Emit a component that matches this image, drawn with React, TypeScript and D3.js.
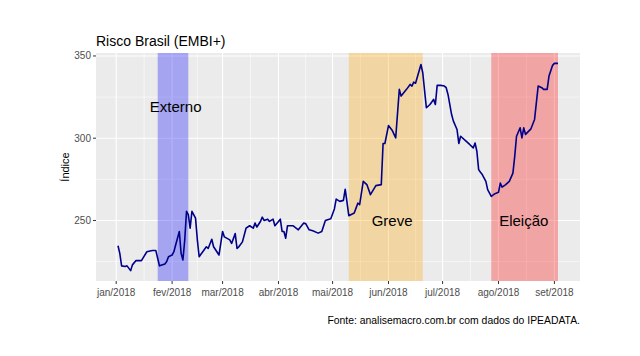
import React from "react";
import * as d3 from "d3";

const dates: string[] = [
  "2018-01-02","2018-01-03","2018-01-04","2018-01-06","2018-01-07","2018-01-09","2018-01-10","2018-01-12","2018-01-15","2018-01-18",
  "2018-01-21","2018-01-23","2018-01-24","2018-01-25","2018-01-28","2018-01-29","2018-01-30","2018-02-01","2018-02-02","2018-02-03",
  "2018-02-05","2018-02-06","2018-02-07","2018-02-08","2018-02-09","2018-02-10","2018-02-11","2018-02-12","2018-02-14","2018-02-15",
  "2018-02-16","2018-02-18","2018-02-20","2018-02-21","2018-02-23","2018-02-24","2018-02-27","2018-03-01","2018-03-02","2018-03-05",
  "2018-03-06","2018-03-08","2018-03-09","2018-03-10","2018-03-12","2018-03-14","2018-03-16","2018-03-18","2018-03-19","2018-03-20",
  "2018-03-22","2018-03-23","2018-03-24","2018-03-26","2018-03-27","2018-03-29","2018-03-30","2018-04-01","2018-04-02","2018-04-03",
  "2018-04-04","2018-04-05","2018-04-06","2018-04-09","2018-04-12","2018-04-15","2018-04-16","2018-04-18","2018-04-20","2018-04-23",
  "2018-04-25","2018-04-27","2018-04-30","2018-05-02","2018-05-03","2018-05-05","2018-05-07","2018-05-08","2018-05-10","2018-05-13",
  "2018-05-14","2018-05-15","2018-05-16","2018-05-18","2018-05-20","2018-05-22","2018-05-25","2018-05-28","2018-05-29","2018-05-30",
  "2018-06-01","2018-06-03","2018-06-05","2018-06-07","2018-06-08","2018-06-11","2018-06-13","2018-06-14","2018-06-15","2018-06-16",
  "2018-06-19","2018-06-20","2018-06-22","2018-06-24","2018-06-25","2018-06-26","2018-06-27","2018-06-28","2018-06-30","2018-07-02",
  "2018-07-03","2018-07-04","2018-07-06","2018-07-07","2018-07-09","2018-07-10","2018-07-11","2018-07-14","2018-07-16","2018-07-18",
  "2018-07-19","2018-07-20","2018-07-21","2018-07-22","2018-07-23","2018-07-25","2018-07-26","2018-07-28","2018-07-30","2018-08-01",
  "2018-08-02","2018-08-03","2018-08-05","2018-08-07","2018-08-09","2018-08-10","2018-08-11","2018-08-13","2018-08-14","2018-08-15",
  "2018-08-16","2018-08-19","2018-08-21","2018-08-23","2018-08-25","2018-08-26","2018-08-28","2018-08-29","2018-08-31","2018-09-01",
  "2018-09-03"
];

const values: number[] = [
  234.6, 230, 222.4, 222, 222.4, 219.5, 223, 225.6, 225.6, 231,
  231.7, 231.7, 227, 222.4, 223.6, 225, 228, 229, 231, 235.2,
  243.3, 230, 226, 238, 255.5, 253.5, 245.3, 255.5, 251.4, 238.2,
  228, 231, 234, 233, 238.6, 234, 229, 243.3, 240, 238.2,
  236, 242, 233, 234, 237, 245.3, 246.8, 245.3, 248.4, 246,
  249.4, 252, 250, 250.8, 249.4, 250.8, 246.8, 249.4, 250.8, 243.3,
  243.3, 239.2, 246.8, 246.8, 244.3, 248.4, 248.2, 244.3, 243.7, 242.3,
  243.3, 250, 251, 257, 263, 261.6, 262.2, 269, 252.9, 254.5,
  257.5, 260.5, 259.6, 273.8, 271.8, 265.7, 271.2, 271.8, 296.8, 296.8,
  307.7, 304.9, 300.2, 329.7, 325.6, 329.7, 332.7, 331.7, 334.1, 333.4,
  344.8, 339.8, 318.5, 320.5, 322, 323.6, 320.5, 332.1, 332.1, 331.7,
  330.7, 326.6, 314.4, 310.4, 305.3, 296.8, 301.2, 298.2, 296.2, 294.1,
  297.1, 292.1, 280.9, 279.3, 277.9, 273.8, 268.7, 264.6, 266.3, 267.1,
  272.7, 270.3, 271.8, 273.8, 278.8, 289, 301.2, 306.3, 300.2, 306.3,
  302.3, 305.7, 311.4, 331.7, 330.7, 329.7, 329.7, 337.8, 344.3, 345.5,
  345.5
];

const periodLabels: string[] = ["Externo", "Greve", "Eleição"];
const periodStart: string[] = ["2018-01-24", "2018-05-10", "2018-07-28"];
const periodEnd: string[] = ["2018-02-10", "2018-06-20", "2018-09-03"];
const periodColors: string[] = ["blue", "orange", "red"];
const labelDates: string[] = ["2018-02-03", "2018-06-03", "2018-08-15"];
const labelValues: number[] = [319, 250, 250];

const monthNames: string[] = ["jan", "fev", "mar", "abr", "mai", "jun", "jul", "ago", "set"];
const yTicks: number[] = [250, 300, 350];

const title = "Risco Brasil (EMBI+)";
const yTitle = "Índice";
const caption = "Fonte: analisemacro.com.br com dados do IPEADATA.";

const W = 640;
const H = 356;
const FONT = "'Liberation Sans', Arial, sans-serif";

export default function App() {
  const parse = d3.utcParse("%Y-%m-%d");
  const data = dates.map((d, i) => ({ date: parse(d) as Date, value: values[i] }));

  const left = 96, right = 580, top = 53, bottom = 281;

  const [d0, d1] = d3.extent(data, (d) => d.date) as [Date, Date];
  const span = +d1 - +d0;
  const x = d3
    .scaleUtc()
    .domain([new Date(+d0 - span * 0.05), new Date(+d1 + span * 0.05)])
    .range([left, right]);

  const [v0, v1] = d3.extent(data, (d) => d.value) as [number, number];
  const vs = v1 - v0;
  const y = d3.scaleLinear().domain([v0 - vs * 0.05, v1 + vs * 0.05]).range([bottom, top]);

  const monthTicks = d3.utcMonth.range(new Date(Date.UTC(2018, 0, 1)), new Date(Date.UTC(2018, 8, 2)));
  const minorX: Date[] = [];
  for (let i = 0; i < monthTicks.length - 1; i++) {
    minorX.push(new Date((+monthTicks[i] + +monthTicks[i + 1]) / 2));
  }
  const step0 = +monthTicks[1] - +monthTicks[0];
  minorX.push(new Date(+monthTicks[0] - step0 / 2));
  minorX.push(new Date(+monthTicks[monthTicks.length - 1] + step0 / 2));
  const minorY = [225, 275, 325];

  const line = d3
    .line<{ date: Date; value: number }>()
    .x((d) => x(d.date))
    .y((d) => y(d.value));

  const inX = (d: Date) => x(d) >= left && x(d) <= right;

  return (
    <svg width={W} height={H} style={{ position: "absolute", left: 0, top: 0, background: "#fff" }} fontFamily={FONT}>
      <rect x={0} y={0} width={W} height={H} fill="#fff" />
      <rect x={left} y={top} width={right - left} height={bottom - top} fill="#EBEBEB" />
      {minorX.filter(inX).map((d, i) => (
        <line key={"mx" + i} x1={x(d)} x2={x(d)} y1={top} y2={bottom} stroke="#fff" strokeWidth={0.55} />
      ))}
      {minorY.map((v) => (
        <line key={"my" + v} x1={left} x2={right} y1={y(v)} y2={y(v)} stroke="#fff" strokeWidth={0.55} />
      ))}
      {monthTicks.map((d, i) => (
        <line key={"Mx" + i} x1={x(d)} x2={x(d)} y1={top} y2={bottom} stroke="#fff" strokeWidth={1.1} />
      ))}
      {yTicks.map((v) => (
        <line key={"My" + v} x1={left} x2={right} y1={y(v)} y2={y(v)} stroke="#fff" strokeWidth={1.1} />
      ))}
      {periodLabels.map((p, i) => (
        <rect
          key={"r" + p}
          x={x(parse(periodStart[i]) as Date)}
          width={x(parse(periodEnd[i]) as Date) - x(parse(periodStart[i]) as Date)}
          y={top}
          height={bottom - top}
          fill={periodColors[i]}
          fillOpacity={0.3}
        />
      ))}
      <path d={line(data) || ""} fill="none" stroke="#00008B" strokeWidth={1.6} strokeLinejoin="round" />
      {periodLabels.map((p, i) => (
        <text
          key={"t" + p}
          x={x(parse(labelDates[i]) as Date)}
          y={y(labelValues[i])}
          textAnchor="middle"
          dominantBaseline="central"
          fontSize={15}
          fill="#000"
        >
          {p}
        </text>
      ))}
      {yTicks.map((v) => (
        <g key={"yt" + v}>
          <line x1={left - 3} x2={left} y1={y(v)} y2={y(v)} stroke="#333" strokeWidth={1} />
          <text x={left - 5} y={y(v)} textAnchor="end" dominantBaseline="central" fontSize={10} fill="#4D4D4D">
            {v}
          </text>
        </g>
      ))}
      {monthTicks.map((d, i) => (
        <g key={"xt" + i}>
          <line x1={x(d)} x2={x(d)} y1={bottom} y2={bottom + 3} stroke="#333" strokeWidth={1} />
          <text x={x(d)} y={bottom + 15} textAnchor="middle" fontSize={10} fill="#4D4D4D">
            {monthNames[d.getUTCMonth()] + "/" + d.getUTCFullYear()}
          </text>
        </g>
      ))}
      <text x={left} y={46} fontSize={14} fill="#000">
        {title}
      </text>
      <text
        transform={`translate(69, ${(top + bottom) / 2}) rotate(-90)`}
        textAnchor="middle"
        fontSize={11}
        fill="#000"
      >
        {yTitle}
      </text>
      <text x={right} y={324} textAnchor="end" fontSize={10.4} fill="#000">
        {caption}
      </text>
    </svg>
  );
}
